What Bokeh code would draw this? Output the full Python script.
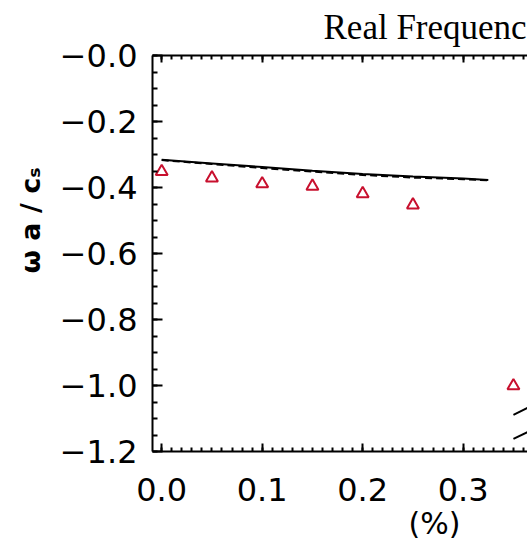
from bokeh.plotting import figure
from bokeh.models import Range1d, FixedTicker, LinearAxis, CustomJSTickFormatter, Title
from bokeh.embed import file_html
from bokeh.resources import INLINE

# ---- data ----
sim_x = [0.00, 0.05, 0.10, 0.15, 0.20, 0.25, 0.35]
sim_omega = [-0.352, -0.371, -0.389, -0.396, -0.419, -0.453, -1.001]
theory_x = [0.0, 0.05, 0.10, 0.15, 0.20, 0.25, 0.30, 0.325]
theory_solid = [-0.316, -0.327, -0.338, -0.349, -0.359, -0.367, -0.373, -0.377]
theory_dashed = [-0.317, -0.329, -0.341, -0.352, -0.362, -0.370, -0.375, -0.378]
branch_x = [0.35, 0.37]
branch_upper = [-1.089, -1.059]
branch_lower = [-1.162, -1.132]
x_ticks = [0.0, 0.1, 0.2, 0.3]
y_ticks = [-1.2, -1.0, -0.8, -0.6, -0.4, -0.2, 0.0]
title_text = "Real Frequenc"   # the reference shows the title cut at the right edge
x_label = "(%)"
y_label = "ω  a / cₛ"

TICK_FONT = "DejaVu Sans"

p = figure(width=527, height=541, output_backend="svg", toolbar_location=None,
           x_range=Range1d(-0.00915, 0.364), y_range=Range1d(-1.2, 0.0),
           min_border_left=152, min_border_right=0, min_border_top=55, min_border_bottom=90,
           x_axis_location=None, y_axis_location=None)
p.outline_line_color = None
p.grid.visible = False
p.background_fill_color = "white"
p.border_fill_color = "white"

p.title = Title(text=title_text, align="left", offset=171, vertical_align="top",
                text_font="Liberation Serif", text_font_size="35px",
                text_font_style="normal", text_color="black", standoff=14)

x_minor = [round(i * 0.01, 2) for i in range(0, 37)]
y_minor = [round(-1.2 + i * 0.05, 2) for i in range(0, 25)]

xfmt = CustomJSTickFormatter(code="return tick.toFixed(1);")
yfmt = CustomJSTickFormatter(code="return '\u2212' + Math.abs(tick).toFixed(1);")
blank = CustomJSTickFormatter(code="return '';")

def style(ax, major_in, minor_in):
    ax.axis_line_width = 2
    ax.axis_line_color = "black"
    ax.major_tick_line_width = 2
    ax.minor_tick_line_width = 2
    ax.major_tick_in = major_in
    ax.major_tick_out = 0
    ax.minor_tick_in = minor_in
    ax.minor_tick_out = 0
    ax.major_label_text_font = TICK_FONT
    ax.major_label_text_font_size = "32px"
    ax.major_label_text_color = "black"

xb = LinearAxis(ticker=FixedTicker(ticks=x_ticks, minor_ticks=x_minor), formatter=xfmt)
style(xb, 8, 4)
xb.major_label_standoff = 26
p.add_layout(xb, "below")
p.add_layout(Title(text=x_label, align="left", offset=256, text_font=TICK_FONT,
                   text_font_size="30px", text_font_style="normal",
                   text_color="black", standoff=0), "below")

xt = LinearAxis(ticker=FixedTicker(ticks=x_ticks, minor_ticks=x_minor), formatter=blank)
style(xt, 7, 4)
xt.major_label_standoff = 0
xt.major_label_text_font_size = "1px"
p.add_layout(xt, "above")

yl = LinearAxis(ticker=FixedTicker(ticks=y_ticks, minor_ticks=y_minor), formatter=yfmt)
style(yl, 10, 5)
yl.major_label_standoff = 15
p.add_layout(yl, "left")
p.add_layout(Title(text=y_label, align="left", offset=178, text_font="DejaVu Sans",
                   text_font_size="27px", text_font_style="bold",
                   text_color="black", standoff=22), "left")

# theory curves
p.line(theory_x, theory_solid, line_color="black", line_width=2)
p.line(theory_x, theory_dashed, line_color="black", line_width=2, line_dash="7 4")
p.line(branch_x, branch_upper, line_color="black", line_width=2)
p.line(branch_x, branch_lower, line_color="black", line_width=2)

# simulation points
p.scatter(sim_x, sim_omega, marker="triangle", size=12, fill_color=None,
          line_color="#c8102e", line_width=2)

open("out.html", "w").write(file_html(p, INLINE))
